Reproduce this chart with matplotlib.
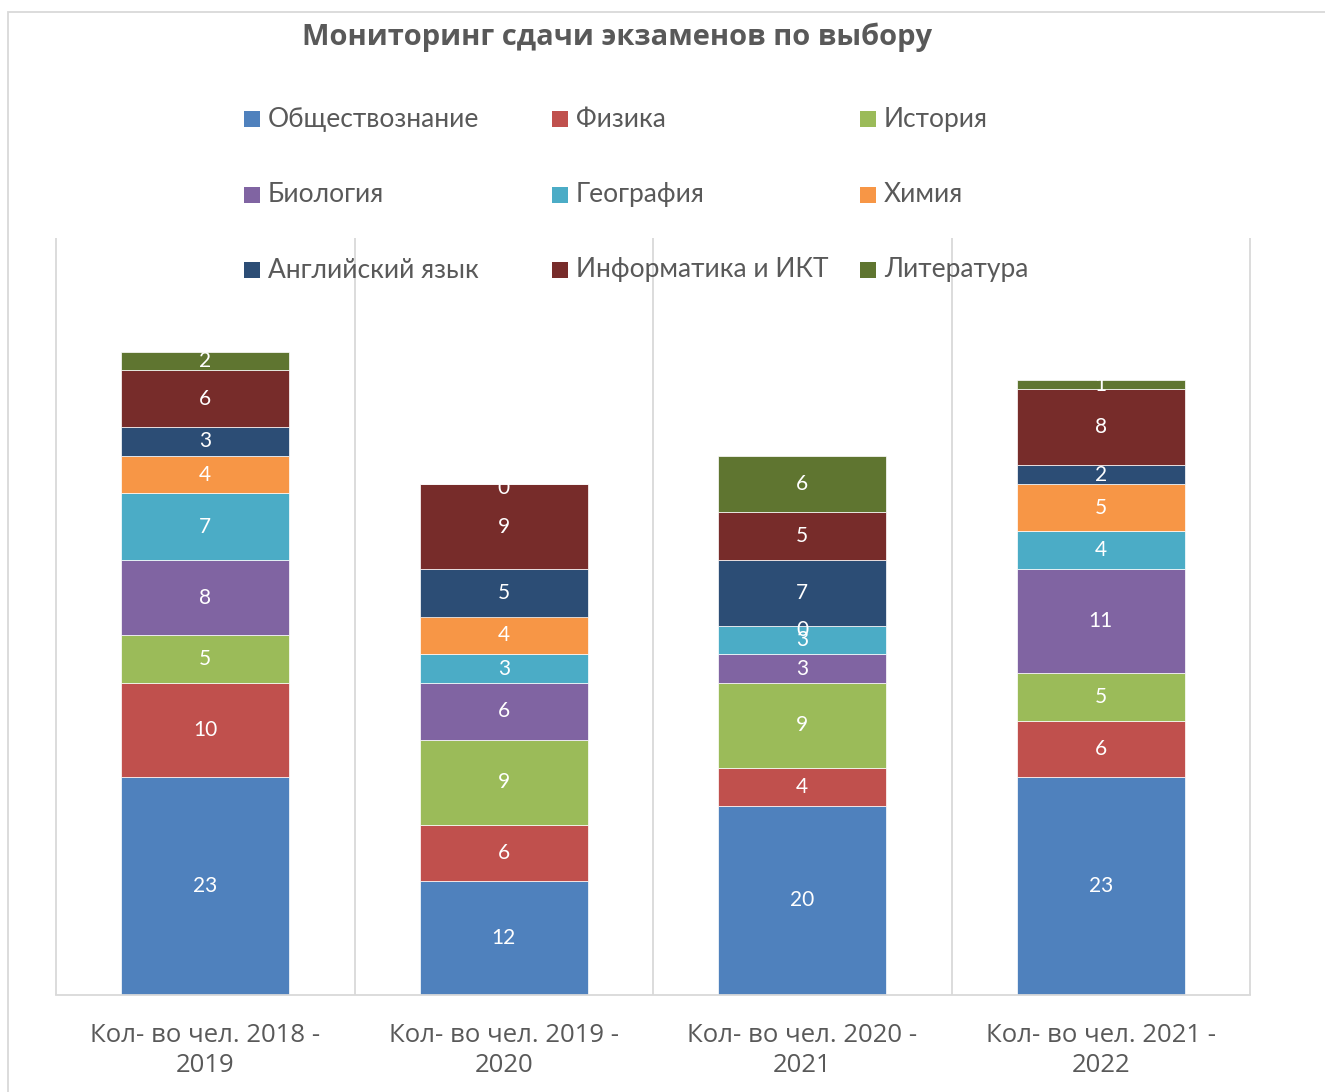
import matplotlib
matplotlib.use('Agg')
import matplotlib.pyplot as plt
import matplotlib.patches as mp
import numpy as np

plt.rcParams['font.family'] = ['Lato', 'DejaVu Sans']

# data
title = 'Мониторинг сдачи экзаменов по выбору'
categories = ['Кол- во чел. 2018 -\n2019', 'Кол- во чел. 2019 -\n2020',
              'Кол- во чел. 2020 -\n2021', 'Кол- во чел. 2021 -\n2022']
subjects = ['Обществознание', 'Физика', 'История',
            'Биология', 'География', 'Химия',
            'Английский язык', 'Информатика и ИКТ', 'Литература']
social = [23, 12, 20, 23]
physics = [10, 6, 4, 6]
history = [5, 9, 9, 5]
biology = [8, 6, 3, 11]
geography = [7, 3, 3, 4]
chemistry = [4, 4, 0, 5]
english = [3, 5, 7, 2]
informatics = [6, 9, 5, 8]
literature = [2, 0, 6, 1]
series = [social, physics, history, biology, geography, chemistry,
          english, informatics, literature]

colors = ['#4F81BD', '#C0504D', '#9BBB59', '#8064A2', '#4BACC6', '#F79646',
          '#2C4D75', '#772C2A', '#5F7530']
grey = '#595959'
line = '#D9D9D9'

W, H = 1325, 1092
fig = plt.figure(figsize=(W / 100, H / 100), dpi=100)
ax = fig.add_axes([56 / W, 1 - 995 / H, (1250 - 56) / W, (995 - 238) / H])

x = np.arange(len(categories))
bottom = np.zeros(len(categories))
for name, vals, c in zip(subjects, series, colors):
    bars = ax.bar(x, vals, 0.563, bottom=bottom, color=c, edgecolor='white',
                  linewidth=0.5, label=name, zorder=2)
    for xi, b, v in zip(x, bottom, vals):
        # zero-height segments: label sits just under the stack edge
        ax.annotate(str(v), (xi, b + v / 2), xytext=(0, -3 if v == 0 else 0),
                    textcoords='offset points', ha='center', va='center',
                    color='white', fontsize=15, zorder=3)
    bottom += np.array(vals)

ax.set_xlim(-0.5, len(categories) - 0.5)
ax.set_ylim(0, 80)
ax.vlines(np.arange(len(categories) + 1) - 0.5, 0, 80, color=line, lw=1.3,
          clip_on=False, zorder=0)
for s in ['left', 'right', 'top']:
    ax.spines[s].set_visible(False)
ax.spines['bottom'].set_color(line)
ax.spines['bottom'].set_linewidth(1.3)
ax.set_yticks([])
ax.set_xticks(x)
ax.set_xticklabels(categories, fontsize=18.5, color=grey, linespacing=1.3,
                   family=['Open Sans', 'DejaVu Sans'])
ax.tick_params(axis='x', length=0, pad=20)

# title
fig.text(617 / W, 1 - 37 / H, title, ha='center', va='center', fontsize=21,
         fontweight='bold', color=grey, family=['Open Sans', 'DejaVu Sans'])

# legend, 3 x 3 grid
for i, (name, c) in enumerate(zip(subjects, colors)):
    row, col = divmod(i, 3)
    lx = 244 + col * 308
    ly = 119 + row * 75.5
    fig.add_artist(mp.Rectangle((lx / W, 1 - (ly + 8) / H), 16 / W, 16 / H,
                                facecolor=c, edgecolor='none',
                                transform=fig.transFigure))
    fig.text((lx + 24) / W, 1 - ly / H, name, ha='left', va='center',
             fontsize=19, color=grey)

# chart frame
fig.add_artist(mp.Rectangle((8 / W, -0.05), 1.0, 1 - 12 / H + 0.05, fill=False,
                            edgecolor=line, lw=1.3, transform=fig.transFigure))

fig.savefig('out.png', dpi=100)
